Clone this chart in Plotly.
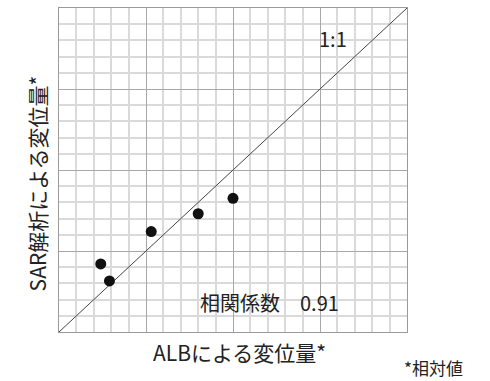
import plotly.graph_objects as go

# Displacement estimates (relative units)
alb_disp = [2.4, 2.9, 5.3, 8.0, 10.0]
sar_disp = [4.2, 3.15, 6.2, 7.3, 8.25]
axis_range = [0, 20]
one_to_one = [0, 20]

FONT = "Noto Sans CJK JP"
TEXT_COLOR = "#222222"

fig = go.Figure()

# 1:1 reference line
fig.add_trace(go.Scatter(
    x=one_to_one, y=one_to_one, mode="lines",
    line=dict(color="#444444", width=1), hoverinfo="skip", showlegend=False,
))
# Observations
fig.add_trace(go.Scatter(
    x=alb_disp, y=sar_disp, mode="markers",
    marker=dict(color="#111111", size=11), showlegend=False,
))

axis_style = dict(
    range=axis_range, dtick=5, showticklabels=False, ticks="",
    showgrid=True, gridcolor="#a8a8a8", gridwidth=1,
    minor=dict(dtick=1, showgrid=True, gridcolor="#dadada", gridwidth=1.5),
    showline=True, linecolor="#9a9a9a", linewidth=1, mirror=True,
    zeroline=False, fixedrange=True,
)
fig.update_xaxes(**axis_style)
fig.update_yaxes(**axis_style)

fig.add_annotation(x=15.75, y=18.1, xref="x", yref="y", text="1:1", showarrow=False,
                   xanchor="center", yanchor="middle",
                   font=dict(family=FONT, size=20, color=TEXT_COLOR))
fig.add_annotation(x=12.07, y=1.85, xref="x", yref="y", text="相関係数　0.91", showarrow=False,
                   xanchor="center", yanchor="middle",
                   font=dict(family=FONT, size=20, color=TEXT_COLOR))
fig.add_annotation(x=0.52, y=-0.063, xref="paper", yref="paper", text="ALBによる変位量*",
                   showarrow=False, xanchor="center", yanchor="middle",
                   font=dict(family=FONT, size=21, color=TEXT_COLOR))
fig.add_annotation(x=1.075, y=-0.11, xref="paper", yref="paper", text="*相対値",
                   showarrow=False, xanchor="center", yanchor="middle",
                   font=dict(family=FONT, size=17, color=TEXT_COLOR))
fig.add_annotation(x=-0.062, y=0.46, xref="paper", yref="paper", text="SAR解析による変位量*",
                   showarrow=False, textangle=-90, xanchor="center", yanchor="middle",
                   font=dict(family=FONT, size=21, color=TEXT_COLOR))

fig.update_layout(
    width=490, height=381,
    margin=dict(l=59, r=83, t=8, b=49),
    paper_bgcolor="white", plot_bgcolor="white",
    showlegend=False,
)

fig.write_html("out.html")
